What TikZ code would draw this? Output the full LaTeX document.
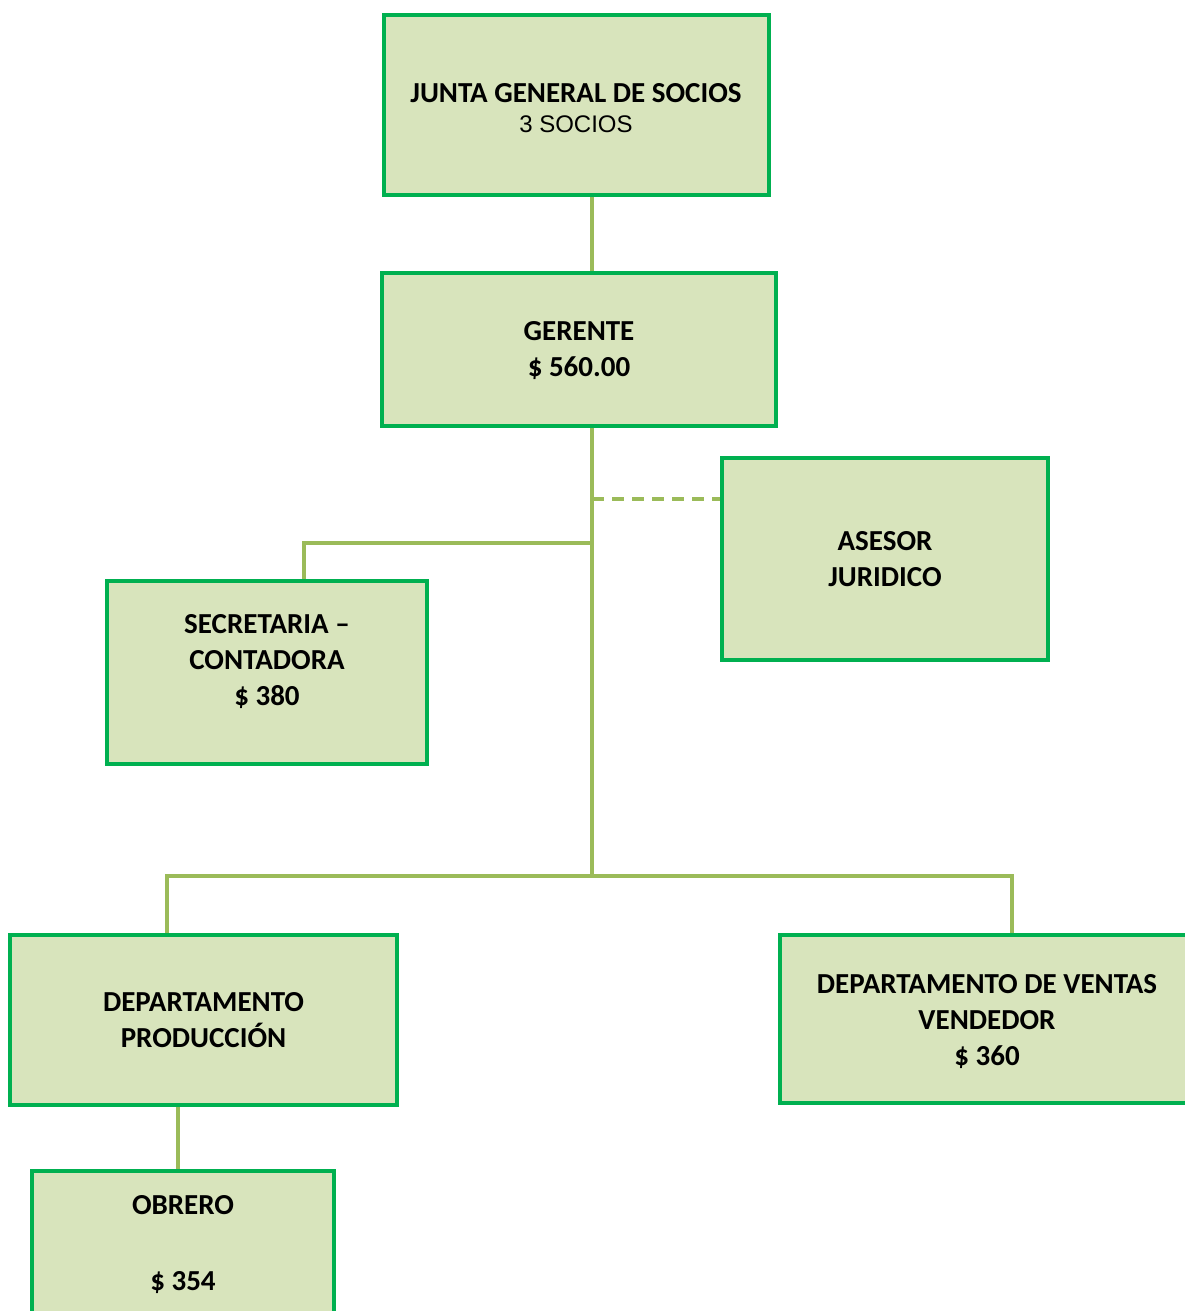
\documentclass[tikz,border=0pt]{standalone}
\usepackage{fontspec}
\setmainfont{Carlito}
\newfontfamily\arialfont{Liberation Sans}
\usetikzlibrary{backgrounds}
\definecolor{boxgreen}{HTML}{00B050}
\definecolor{boxfill}{HTML}{D8E4BC}
\definecolor{linkgreen}{HTML}{9BBB59}
\tikzset{
  orgbox/.style={rectangle, draw=boxgreen, line width=4pt, fill=boxfill,
    inner sep=0pt, outer sep=0pt, anchor=north west, align=center,
    font=\bfseries\fontsize{29}{36}\selectfont},
  orgtext/.style={orgbox, draw=none, fill=none},
  conn/.style={draw=linkgreen, line width=4pt},
  dashconn/.style={draw=linkgreen, line width=4pt, dash pattern=on 12pt off 8pt}
}
\begin{document}
\begin{tikzpicture}[x=1pt, y=-1pt]
  \useasboundingbox (0,0) rectangle (1184,1311);

  % boxes
  \node[orgbox, minimum width=385pt, minimum height=180pt] (junta) at (384,15) {};
  \node[orgtext, anchor=center] (juntatxt) at (576,108)
    {JUNTA GENERAL DE SOCIOS\\[-6pt]{\arialfont\mdseries\fontsize{24}{27}\selectfont 3 SOCIOS}};
  \node[orgbox, minimum width=394pt, minimum height=153pt] (gerente) at (382,273) {};
  \node[orgtext, anchor=center] (gerentetxt) at (579,351) {GERENTE\\\$ 560.00};
  \node[orgbox, minimum width=326pt, minimum height=202pt] (asesor) at (722,458)
    {ASESOR\\JURIDICO};
  \node[orgbox, minimum width=320pt, minimum height=183pt] (secre) at (107,581) {};
  \node[orgtext, anchor=north] (secretxt) at (267,614)
    {SECRETARIA --\\CONTADORA\\\$ 380};
  \node[orgbox, minimum width=387pt, minimum height=170pt] (prod) at (10,935)
    {DEPARTAMENTO\\PRODUCCIÓN};
  \node[orgbox, minimum width=420pt, minimum height=168pt] (ventas) at (780,935) {};
  \node[orgtext, anchor=center] (ventastxt) at (987,1022)
    {DEPARTAMENTO DE VENTAS\\VENDEDOR\\\$ 360};
  \node[orgbox, minimum width=302pt, minimum height=170pt] (obrero) at (32,1171) {};
  \node[orgtext, anchor=north] (obrerotxt) at (183,1195)
    {OBRERO\\[40pt]\$ 354};

  % connectors
  \coordinate (tx) at (592,0);
  \coordinate (secbend) at (592,543);
  \coordinate (bus) at (592,876);
  \coordinate (busl) at (167,876);
  \coordinate (busr) at (1012,876);
  \coordinate (asesorjoin) at (592,499);
  \begin{pgfonlayer}{background}
    \draw[conn] (junta.south -| tx) -- (gerente.north -| tx);
    \draw[conn] (gerente.south -| tx) -- (bus);
    \draw[conn] (secbend) -| (secre.north -| 304,0);
    \draw[conn] (prod.north -| busl) -- (busl) -- (busr) -- (ventas.north -| busr);
    \draw[conn] (prod.south -| 178,0) -- (obrero.north -| 178,0);
    \draw[dashconn] (asesorjoin) -- (asesor.west |- asesorjoin);
  \end{pgfonlayer}
\end{tikzpicture}
\end{document}
